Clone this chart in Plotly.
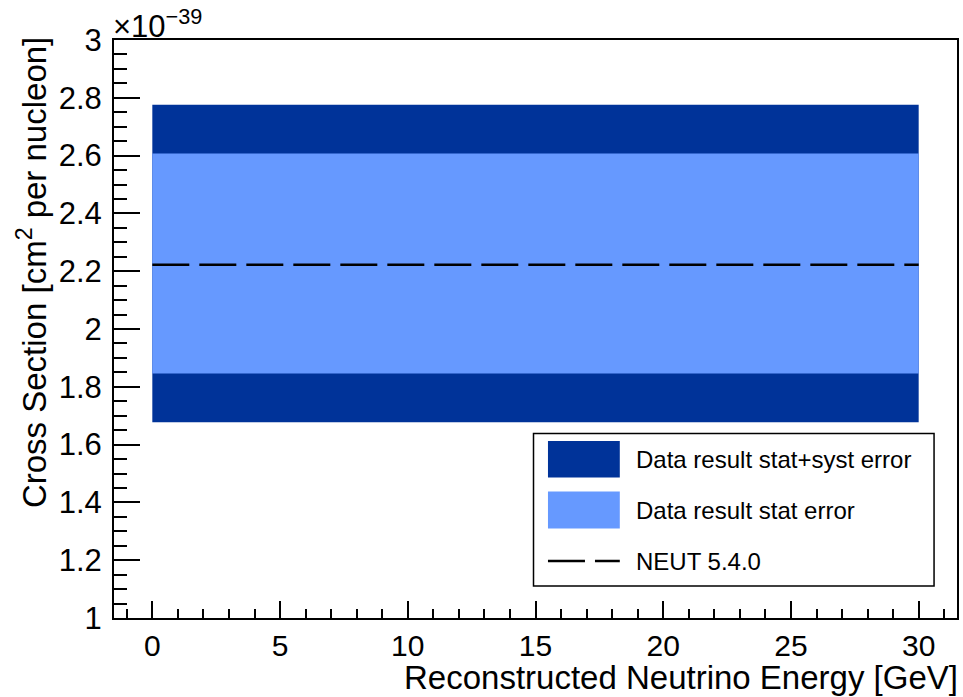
import plotly.graph_objects as go

# Flux-averaged cross section, in units of 1e-39 cm^2 per nucleon
energy_range = [0.0, 30.0]            # GeV, extent of the measurement band
central_value = 2.222                 # NEUT 5.4.0 prediction
stat_band = [1.846, 2.607]            # data result, stat error only
total_band = [1.6775, 2.776]          # data result, stat+syst error

legend_labels = ["Data result stat+syst error", "Data result stat error", "NEUT 5.4.0"]
y_tick_values = [1.0, 1.2, 1.4, 1.6, 1.8, 2.0, 2.2, 2.4, 2.6, 2.8, 3.0]
y_tick_labels = ["1", "1.2", "1.4", "1.6", "1.8", "2", "2.2", "2.4", "2.6", "2.8", "3"]
x_tick_values = [0, 5, 10, 15, 20, 25, 30]

DARK = "#003399"
LIGHT = "#6699ff"
FONT = "Liberation Sans, Arial, Helvetica, sans-serif"


def band(lo, hi, color):
    x0, x1 = energy_range
    return go.Scatter(
        x=[x0, x1, x1, x0, x0], y=[lo, lo, hi, hi, lo],
        fill="toself", fillcolor=color, mode="lines",
        line=dict(width=0, color=color), hoverinfo="skip", showlegend=False,
    )


fig = go.Figure()
fig.add_trace(band(total_band[0], total_band[1], DARK))
fig.add_trace(band(stat_band[0], stat_band[1], LIGHT))
fig.add_trace(go.Scatter(
    x=energy_range, y=[central_value, central_value], mode="lines",
    line=dict(color="black", width=2.5, dash="37px,10px"), showlegend=False,
))

W, H = 963, 697
ml, mr, mt, mb = 114, 4, 40, 79

fig.update_layout(
    width=W, height=H,
    margin=dict(l=ml, r=mr, t=mt, b=mb),
    paper_bgcolor="white", plot_bgcolor="white",
    font=dict(family=FONT, color="black"),
    showlegend=False,
)
fig.update_xaxes(
    range=[-1.5, 31.5], tickvals=x_tick_values,
    ticks="inside", ticklen=17, tickwidth=1.5, tickcolor="black",
    minor=dict(dtick=1, ticks="inside", ticklen=9, tickwidth=1.5, tickcolor="black"),
    showline=True, linewidth=2, linecolor="black", mirror=True,
    showgrid=False, zeroline=False,
    tickfont=dict(size=30, family=FONT), ticklabelstandoff=0,
)
fig.update_yaxes(
    range=[1.0, 3.0], tickvals=y_tick_values, ticktext=y_tick_labels,
    ticks="inside", ticklen=26, tickwidth=1.5, tickcolor="black",
    minor=dict(dtick=0.05, ticks="inside", ticklen=13, tickwidth=1.5, tickcolor="black"),
    showline=True, linewidth=2, linecolor="black", mirror=True,
    showgrid=False, zeroline=False,
    tickfont=dict(size=31, family=FONT), ticklabelstandoff=4,
)

# axis titles and exponent label
fig.add_annotation(
    text="Reconstructed Neutrino Energy [GeV]", xref="paper", yref="paper",
    x=1.003, y=-0.068, xanchor="right", yanchor="top", showarrow=False,
    font=dict(size=33, family=FONT),
)
fig.add_annotation(
    text="Cross Section [cm<sup>2</sup> per nucleon]", xref="paper", yref="paper",
    x=-0.097, y=1.008, xanchor="center", yanchor="top", textangle=-90, showarrow=False,
    font=dict(size=33, family=FONT),
)
fig.add_annotation(
    text="×10<sup>−39</sup>", xref="paper", yref="paper",
    x=-0.004, y=0.99, xanchor="left", yanchor="bottom", showarrow=False,
    font=dict(size=31, family=FONT),
)


# legend box drawn in paper coordinates
def px(x):
    return (x - ml) / (W - ml - mr)


def py(y):
    return (H - mb - y) / (H - mt - mb)


fig.add_shape(type="rect", xref="paper", yref="paper",
              x0=px(534.5), x1=px(936), y0=py(586), y1=py(433.5),
              line=dict(color="black", width=1.5), fillcolor="white", layer="above")
fig.add_shape(type="rect", xref="paper", yref="paper",
              x0=px(549), x1=px(621), y0=py(477.5), y1=py(441),
              line=dict(width=0), fillcolor=DARK, layer="above")
fig.add_shape(type="rect", xref="paper", yref="paper",
              x0=px(549), x1=px(621), y0=py(528.5), y1=py(491.5),
              line=dict(width=0), fillcolor=LIGHT, layer="above")
fig.add_shape(type="line", xref="paper", yref="paper",
              x0=px(549), x1=px(621), y0=py(561), y1=py(561),
              line=dict(color="black", width=2.5, dash="37px,10px"), layer="above")
for label, yc in zip(legend_labels, [459, 510, 561]):
    fig.add_annotation(
        text=label, xref="paper", yref="paper", x=px(635), y=py(yc),
        xanchor="left", yanchor="middle", showarrow=False,
        font=dict(size=24, family=FONT),
    )

fig.write_html("out.html")
